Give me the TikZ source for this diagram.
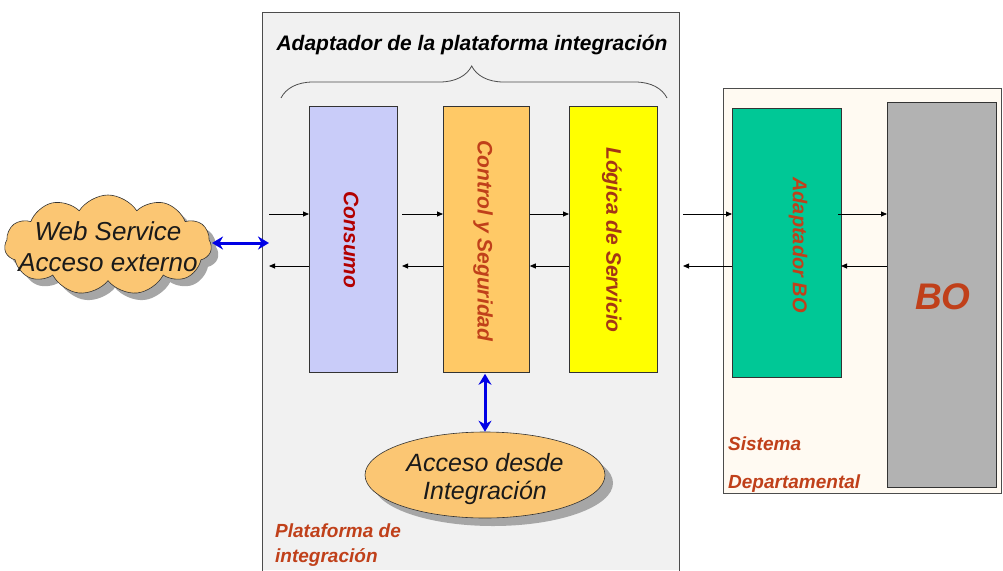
\documentclass[tikz,border=0pt]{standalone}
\usepackage{fontspec}
\setmainfont{Liberation Sans}
\usetikzlibrary{shapes.symbols,shapes.geometric,shadows,arrows.meta,decorations.pathreplacing}
\definecolor{platbg}{HTML}{F1F1F1}
\definecolor{sisbg}{HTML}{FFFAF2}
\definecolor{consumo}{HTML}{C9CCF9}
\definecolor{control}{HTML}{FFC966}
\definecolor{logica}{HTML}{FFFF00}
\definecolor{adapt}{HTML}{00C896}
\definecolor{bo}{HTML}{B2B2B2}
\definecolor{lbl}{HTML}{C0401A}
\definecolor{cloudfill}{HTML}{FBC673}
\definecolor{darktxt}{HTML}{1A1A1A}
\tikzset{
  blk/.style={draw=black!80, line width=0.8pt, anchor=north west, inner sep=0pt},
  vtext/.style={rotate=-90, font=\bfseries\itshape\fontsize{21}{23}\selectfont},
  flow/.style={draw=black, line width=0.8pt, -{Triangle[length=6pt,width=5pt]}},
  blue2/.style={draw=blue!90!black, line width=3pt, {Stealth[length=11pt,width=13pt]}-{Stealth[length=11pt,width=13pt]}},
  grouplbl/.style={text=lbl, font=\bfseries\itshape\fontsize{19}{25}\selectfont, align=left, anchor=base west, inner sep=0pt},
}
\begin{document}
\begin{tikzpicture}[x=1pt,y=-1pt]
\useasboundingbox (0,0) rectangle (1003,570);
% platform box
\fill[platbg] (262,12) rectangle (679,570);
\draw[black!70, line width=0.8pt] (262,572) -- (262,12) -- (679,12) -- (679,572);
% sistema box
\draw[black!70, line width=0.8pt, fill=sisbg] (723,88) rectangle (1001,493);
% title
\node[anchor=base] (title) at (472,50) {\bfseries\itshape\fontsize{21}{23}\selectfont Adaptador de la plataforma integración};
\coordinate (br1) at (281,98);
\coordinate (br2) at (667,98);
\draw[black!70, line width=0.8pt, decorate, decoration={brace, amplitude=32pt, aspect=0.494}] (br1) -- (br2);
% blocks
\node[blk, fill=consumo, minimum width=88pt, minimum height=266pt] (cons) at (309,106) {};
\node[blk, fill=control, minimum width=86pt, minimum height=266pt] (ctrl) at (443,106) {};
\node[blk, fill=logica, minimum width=88pt, minimum height=266pt] (logi) at (569,106) {};
\node[blk, fill=adapt, minimum width=109pt, minimum height=269pt] (adbo) at (732,108) {};
\node[blk, fill=bo, minimum width=109pt, minimum height=385pt] (bo) at (887,102) {};
\node[vtext, text=red!70!black] (tcons) at (351,240) {Consumo};
\node[vtext, text=lbl] (tctrl) at (483,241) {Control y Seguridad};
\node[vtext, text=lbl!85!black] (tlogi) at (612,240) {Lógica de Servicio};
\node[vtext, text=lbl, font=\bfseries\itshape\fontsize{20}{22}\selectfont] (tadbo) at (798,245) {Adaptador BO};
\node[text=lbl, font=\bfseries\itshape\fontsize{37}{39}\selectfont] (tbo) at (943,297) {BO};
% flow arrows
\coordinate (inL) at (269,214);
\coordinate (outL) at (269,266);
\coordinate (c2a) at (402,214);
\coordinate (c2b) at (402,266);
\coordinate (l2a) at (683,214);
\coordinate (l2b) at (683,266);
\coordinate (a2a) at (838,214);
\coordinate (a2b) at (841,266);
\draw[flow] (inL) -- (inL -| cons.west);
\draw[flow] (cons.west |- outL) -- (outL);
\draw[flow] (c2a) -- (c2a -| ctrl.west);
\draw[flow] (ctrl.west |- c2b) -- (c2b);
\draw[flow] (ctrl.east |- c2a) -- (c2a -| logi.west);
\draw[flow] (logi.west |- c2b) -- (c2b -| ctrl.east);
\draw[flow] (l2a) -- (l2a -| adbo.west);
\draw[flow] (adbo.west |- l2b) -- (l2b);
\draw[flow] (a2a) -- (a2a -| bo.west);
\draw[flow] (bo.west |- a2b) -- (a2b);
% cloud
\node[cloud, cloud puffs=11, cloud puff arc=115, aspect=2.2, draw=black!80, line width=0.6pt, fill=cloudfill,
  drop shadow={shadow xshift=7pt, shadow yshift=-7pt, fill=black!35, opacity=1},
  minimum width=207pt, minimum height=100pt, inner sep=0pt] (cloud) at (108,245) {};
\node[align=center, font=\itshape\fontsize{26}{31}\selectfont, text=darktxt, inner sep=0pt] (cloudtxt) at (108,247) {Web Service\\Acceso externo};
\coordinate (cloudR) at (212,243);
\coordinate (platL) at (269,243);
\draw[blue2] (cloudR) -- (platL);
% ellipse
\node[ellipse, draw=black!80, line width=0.6pt, fill=cloudfill,
  drop shadow={shadow xshift=8pt, shadow yshift=-8pt, fill=black!35, opacity=1},
  minimum width=240pt, minimum height=86pt, inner sep=0pt] (acc) at (485,475) {};
\node[align=center, font=\itshape\fontsize{25}{28}\selectfont, text=darktxt, inner sep=0pt] (acctxt) at (485,479) {Acceso desde\\Integración};
\draw[blue2] (ctrl.south -| 485,0) ++(0,1) -- (acc.north);
% group labels
\node[grouplbl] (plat) at (275,562) {Plataforma de\\integración};
\node[grouplbl, font=\bfseries\itshape\fontsize{19}{38}\selectfont] (sis) at (728,488) {Sistema\\Departamental};
\end{tikzpicture}
\end{document}
